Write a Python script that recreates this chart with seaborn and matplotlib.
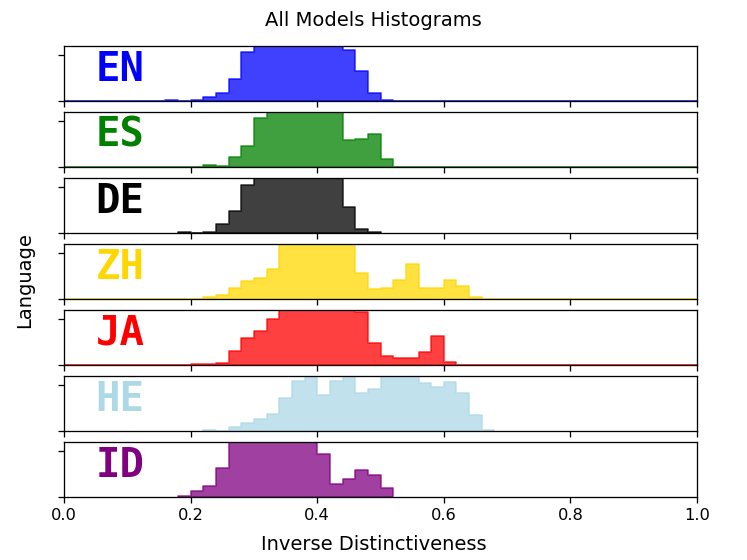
import numpy as np
import pandas as pd
import matplotlib
matplotlib.use("Agg")
import matplotlib.pyplot as plt
from matplotlib.colors import to_rgba
import seaborn as sns

# bin width of all histograms
bin_width = 0.02

languages = ["EN", "ES", "DE", "ZH", "JA", "HE", "ID"]
colors = ["blue", "green", "black", "gold", "red", "lightblue", "purple"]

# drawn extent (lo, hi) of each histogram
spans = {
    "EN": (0.0, 1.0),
    "ES": (0.0, 1.0),
    "DE": (0.18, 0.50),
    "ZH": (0.0, 1.0),
    "JA": (0.0, 1.0),
    "HE": (0.22, 0.68),
    "ID": (0.18, 0.52),
}

# left edge of first non-empty bin
starts = {"EN": 0.16, "ES": 0.22, "DE": 0.18, "ZH": 0.22,
          "JA": 0.20, "HE": 0.22, "ID": 0.18}

en_heights = [0.15, 0.0, 0.1, 0.87, 1.82, 4.8, 10.6,
              13.5, 15.0, 16.2, 16.8, 15.9, 14.6, 13.2,
              11.1, 6.6, 1.8, 0.15]
es_heights = [0.44, 0.3, 2.06, 4.6, 10.7,
              13.8, 15.2, 16.0, 15.4, 14.5, 13.1,
              5.9, 6.1, 7.1, 1.77]
de_heights = [0.15, 0.05, 0.15, 2.0, 4.7, 10.4,
              13.6, 15.4, 16.5, 16.9, 15.8, 14.7, 13.0,
              5.6, 0.9, 0.2]
zh_heights = [0.37, 0.8, 2.36, 3.9, 4.6, 6.6,
              13.5, 14.8, 15.6, 15.2, 14.1, 13.0,
              5.7, 2.1, 2.3, 4.2, 7.6, 2.4, 2.4, 4.05, 2.9, 0.5]
ja_heights = [0.3, 0.3, 0.5, 3.0, 5.85, 7.5, 10.0,
              13.2, 14.6, 15.3, 14.9, 13.8, 12.9,
              11.6, 4.8, 2.0, 1.6, 1.5, 2.8, 6.4, 0.7]
he_heights = [0.3, 0.05, 0.8, 1.7, 2.7, 3.8, 7.2, 10.9, 12.5, 7.9, 11.0,
              13.0, 8.3, 9.1, 12.8, 13.5, 12.9, 10.4, 9.5, 10.7, 8.3,
              3.5, 0.2]
id_heights = [0.3, 1.25, 2.4, 6.4,
              13.4, 14.9, 15.8, 16.1, 15.5, 14.3, 13.1,
              9.3, 2.8, 4.0, 5.9, 4.8, 2.0]

heights = {"EN": en_heights, "ES": es_heights, "DE": de_heights,
           "ZH": zh_heights, "JA": ja_heights, "HE": he_heights,
           "ID": id_heights}

fig, axes = plt.subplots(7, 1, sharex=True, figsize=(747.01 / 117, 560.01 / 117), dpi=117)
fig.subplots_adjust(left=0.0857, right=0.9331, top=0.918, bottom=0.1125, hspace=0.2)

for ax, lang, col in zip(axes, languages, colors):
    h = heights[lang]
    lo, hi = spans[lang]
    n_edges = int(round((hi - lo) / bin_width)) + 1
    edges = [lo + bin_width * i for i in range(n_edges)]
    centers = starts[lang] + bin_width * (np.arange(len(h)) + 0.5)
    df = pd.DataFrame({"score": centers, "w": h})
    sns.histplot(data=df, x="score", weights="w", bins=edges, element="step",
                 fill=True, color=col, alpha=0.75, edgecolor=to_rgba(col, 0.75),
                 ax=ax)
    ax.set_xlim(0, 1)
    ax.set_ylim(0, 12)
    ax.set_yticks([0, 10])
    ax.tick_params(labelleft=False)
    ax.set_ylabel("")
    ax.set_xlabel("")
    ax.text(0.05, 0.58, lang, transform=ax.transAxes, ha="left", va="center",
            color=col, fontsize=25, fontweight="bold", family="DejaVu Sans Mono")

fig.suptitle("All Models Histograms")
fig.supxlabel("Inverse Distinctiveness")
fig.supylabel("Language")
plt.savefig("out.png", dpi=117)
